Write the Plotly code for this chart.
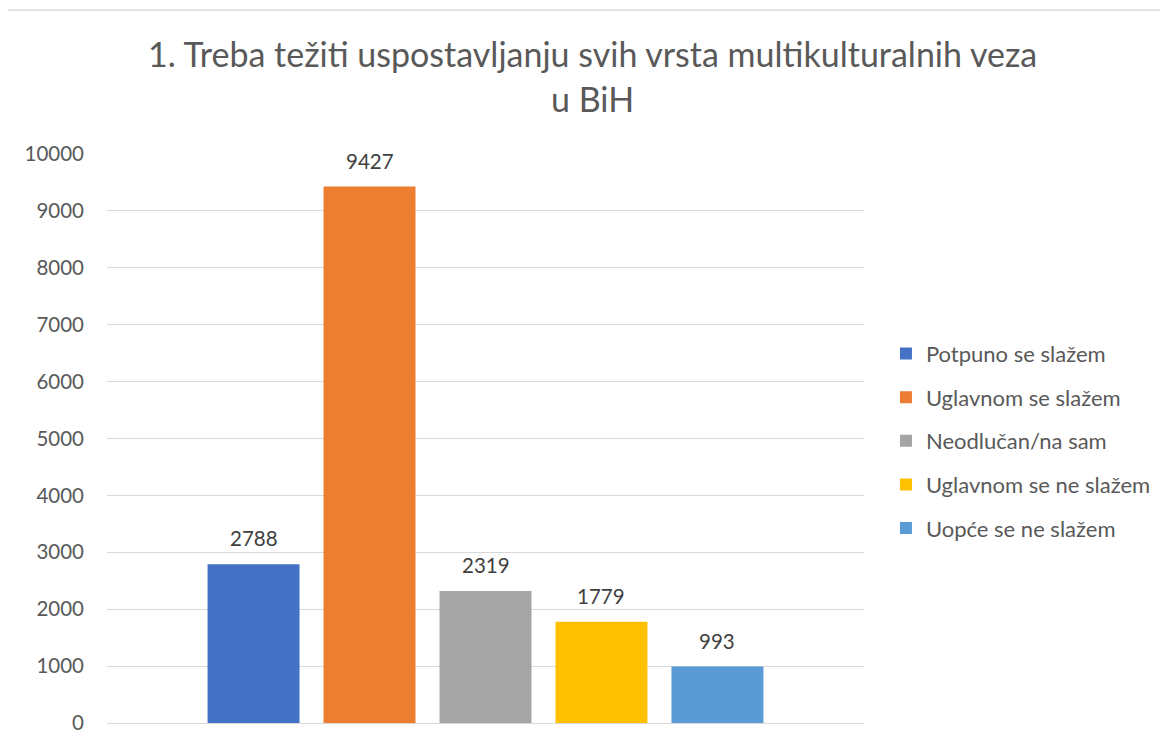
import plotly.graph_objects as go

# answer categories (one series each, as in the Excel chart)
answers = ["Potpuno se slažem", "Uglavnom se slažem", "Neodlučan/na sam",
           "Uglavnom se ne slažem", "Uopće se ne slažem"]
counts = [2788, 9427, 2319, 1779, 993]
colors = ["#4472C4", "#ED7D31", "#A5A5A5", "#FFC000", "#5B9BD5"]
category = ["Q1"]

FONT = "Lato, Calibri, sans-serif"
W, H = 1160, 742
ML, MR, MT, MB = 99, 304, 146, 27
BARGAP = 0.234

fig = go.Figure()
for i in range(len(answers)):
    fig.add_trace(go.Bar(
        x=category, y=[counts[i]], name=answers[i],
        marker=dict(color=colors[i], line=dict(width=0)),
        legendgroup=answers[i],
    ))

# value labels above each bar (x offset follows the grouped-bar layout)
slot = (1 - BARGAP) * (W - ML - MR) / len(answers)
for i in range(len(answers)):
    fig.add_annotation(
        x=category[0], y=counts[i], xref="x", yref="y",
        text=str(counts[i]), showarrow=False,
        xshift=(i - (len(answers) - 1) / 2) * slot, yshift=12,
        yanchor="bottom", xanchor="center",
        font=dict(size=20.5, color="#404040", family=FONT),
    )

fig.update_layout(
    width=W, height=H,
    paper_bgcolor="white", plot_bgcolor="white",
    barmode="group", bargap=BARGAP, bargroupgap=0.207,
    margin=dict(l=ML, r=MR, t=MT, b=MB, autoexpand=False),
    title=dict(text="1. Treba težiti uspostavljanju svih vrsta multikulturalnih veza<br>u BiH",
               x=0.504, xanchor="center", y=0.92, yanchor="top",
               font=dict(size=34, color="#595959", family=FONT)),
    font=dict(family=FONT, color="#595959"),
    legend=dict(x=1.029, xanchor="left", y=0.496, yanchor="middle",
                font=dict(size=22, color="#595959", family=FONT),
                tracegroupgap=12, itemwidth=30),
    showlegend=True,
)
fig.update_yaxes(range=[0, 10000], dtick=1000, tickformat="d",
                 showgrid=True, gridcolor="#D9D9D9",
                 gridwidth=1, zeroline=True, zerolinecolor="#D9D9D9", zerolinewidth=1,
                 showline=False, ticks="", ticklabelstandoff=22,
                 tickfont=dict(size=20.5, color="#595959", family=FONT))
fig.update_xaxes(showticklabels=False, showline=False, showgrid=False, ticks="")

# chart-area border like the Excel frame
fig.add_shape(type="rect", xref="paper", yref="paper", x0=-0.1334, x1=1.5,
              y0=-0.2, y1=1.253, line=dict(color="#D9D9D9", width=1.5),
              fillcolor="rgba(0,0,0,0)", layer="below")

fig.write_html("out.html")
